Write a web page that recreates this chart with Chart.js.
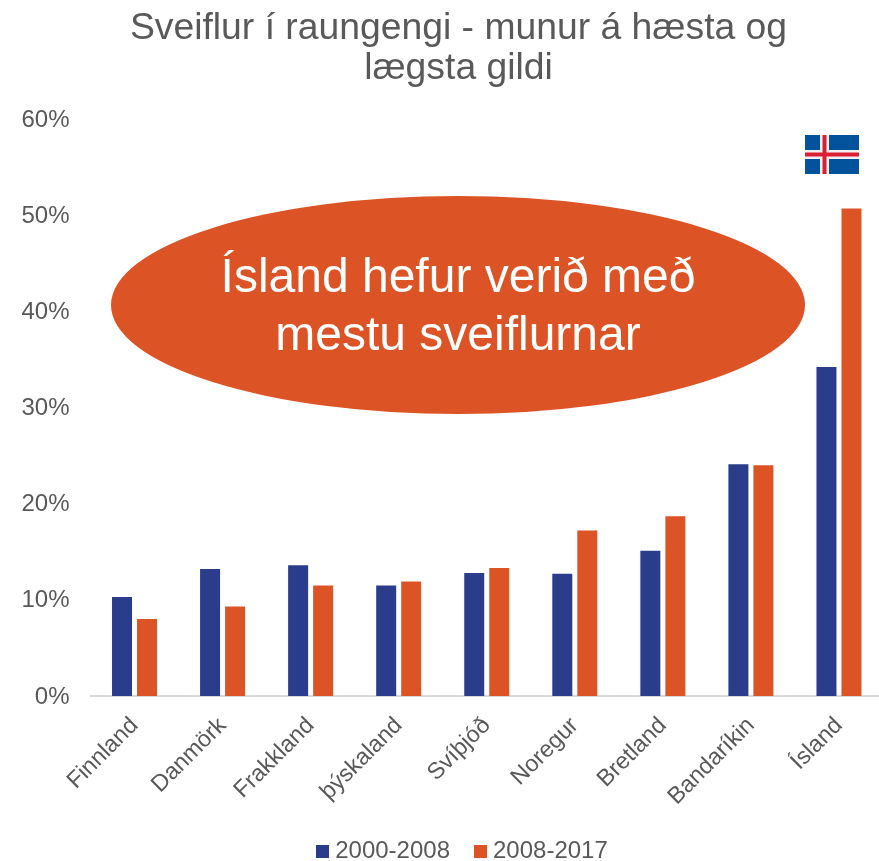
<!DOCTYPE html>
<html><head><meta charset="utf-8">
<script src="https://cdn.jsdelivr.net/npm/chart.js@4"></script>
<style>html,body{margin:0;padding:0;background:#fff;overflow:hidden}#w{width:879px;height:861px;position:relative;overflow:hidden}canvas{display:block}</style>
</head><body><div id="w"><canvas id="c" width="883" height="861"></canvas></div>
<script>
const categories=["Finnland","Danmörk","Frakkland","þýskaland","Svíþjóð","Noregur","Bretland","Bandaríkin","Ísland"];
const series1=[10.3,13.2,13.6,11.5,12.8,12.7,15.1,24.1,34.2];
const series2=[8.0,9.3,11.5,11.9,13.3,17.2,18.7,24.0,50.7];
const seriesNames=["2000-2008","2008-2017"];
const seriesColors=['#2B3C8B','#DC5425'];
const titleLines=["Sveiflur í raungengi - munur á hæsta og","lægsta gildi"];
const calloutLines=["Ísland hefur verið með","mestu sveiflurnar"];
const FONT='"Liberation Sans",Arial,sans-serif';
function square(col){const s=document.createElement('canvas');s.width=13;s.height=13;const g=s.getContext('2d');g.fillStyle=col;g.fillRect(0,0,13,13);return s;}
const squares=seriesColors.map(square);
const placer={id:'placer',afterLayout(ch){
 ch.titleBlock.left+=17;ch.titleBlock.right+=17;
 ch.legend.top+=12;ch.legend.bottom+=12;
 ch.legend.left+=23.5;ch.legend.right+=23.5;
 ch.scales.x.bottom=861;
}};
const overlay={id:'overlay',afterDatasetsDraw(ch){
 const c=ch.ctx;
 c.save();
 c.fillStyle='#DC5425';c.beginPath();
 const cx=458,cy=305;
 c.ellipse(cx,cy,347,109,0,0,Math.PI*2);c.fill();
 c.fillStyle='#fff';c.font='48px '+FONT;c.textAlign='center';c.textBaseline='middle';
 c.fillText(calloutLines[0],cx,279);c.fillText(calloutLines[1],cx,337);
 const fx=805,fy=135,fw=54,fh=39;
 c.fillStyle='#02529C';c.fillRect(fx,fy,fw,fh);
 c.fillStyle='#F0F0F0';c.fillRect(fx+15,fy,9,fh);c.fillRect(fx,fy+15,fw,9);
 c.fillStyle='#DC1E35';c.fillRect(fx+17.5,fy,4,fh);c.fillRect(fx,fy+17.5,fw,4);
 c.restore();
}};
new Chart(document.getElementById('c'),{type:'bar',
 data:{labels:categories,datasets:[
  {label:seriesNames[0],data:series1,backgroundColor:seriesColors[0],barPercentage:.8,categoryPercentage:.568},
  {label:seriesNames[1],data:series2,backgroundColor:seriesColors[1],barPercentage:.8,categoryPercentage:.568}]},
 options:{responsive:false,animation:false,
  plugins:{
   title:{display:true,text:titleLines,color:'#595959',font:{family:FONT,size:37.3,weight:'normal',lineHeight:'40px'},padding:{top:9,bottom:30}},
   legend:{position:'bottom',labels:{color:'#595959',font:{family:FONT,size:24},usePointStyle:true,pointStyleWidth:1,padding:30,
     generateLabels:ch=>ch.data.datasets.map((d,i)=>({text:d.label,fillStyle:d.backgroundColor,strokeStyle:d.backgroundColor,lineWidth:0,pointStyle:squares[i],datasetIndex:i,fontColor:'#595959'}))}},
   tooltip:{enabled:false}},
  scales:{
   x:{grid:{display:false,drawTicks:false},border:{color:'#D9D9D9',width:2},
      afterFit(s){s.height=101;},
      ticks:{color:'#595959',font:{family:FONT,size:23.3},maxRotation:45,minRotation:45,padding:16}},
   y:{min:0,max:60,grid:{display:false,drawTicks:false},border:{display:false},
      afterFit(s){s.width=90.5;},
      ticks:{stepSize:10,color:'#595959',font:{family:FONT,size:24},padding:21,labelOffset:1,callback:v=>v+'%'}}}
 },plugins:[placer,overlay]});
</script></body></html>
